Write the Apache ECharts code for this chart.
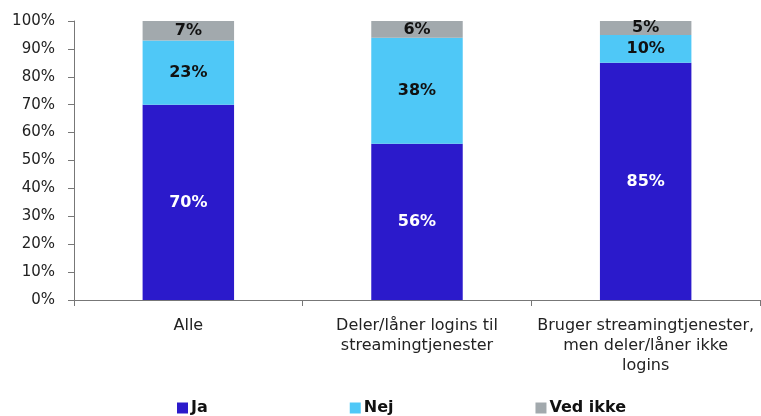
<!DOCTYPE html>
<html>
<head>
<meta charset="utf-8">
<script src="https://cdn.jsdelivr.net/npm/echarts@6/dist/echarts.min.js"></script>
<style>
  html, body { margin: 0; padding: 0; background: #fff; }
  #chart { width: 761px; height: 416px; }
</style>
</head>
<body>
<div id="chart"></div>
<script>
const categories = ['Alle', 'Deler/låner logins til\nstreamingtjenester', 'Bruger streamingtjenester,\nmen deler/låner ikke\nlogins'];
const dataJa = [70, 56, 85];
const dataNej = [23, 38, 10];
const dataVedIkke = [7, 6, 5];

const font = '"DejaVu Sans", sans-serif';

function serie(name, data, color, labelColor) {
  return {
    name: name,
    type: 'bar',
    stack: 'total',
    data: data,
    barWidth: '40%',
    itemStyle: { color: color },
    label: {
      show: true,
      position: 'inside',
      formatter: '{c}%',
      color: labelColor,
      fontWeight: 'bold',
      fontSize: 16,
      fontFamily: font
    }
  };
}

let myChart = echarts.init(document.getElementById('chart'));
const option = {
  animation: false,
  grid: { left: 74, right: 1, top: 21, bottom: 116 },
  legend: {
    left: 172,
    top: 395,
    itemWidth: 11,
    itemHeight: 11,
    itemGap: 142,
    icon: 'rect',
    textStyle: { fontSize: 16, fontWeight: 'bold', color: '#111', fontFamily: font, padding: [0, 0, 0, -2] },
    data: ['Ja', 'Nej', 'Ved ikke']
  },
  xAxis: {
    type: 'category',
    data: categories,
    axisLine: { lineStyle: { color: '#777' } },
    axisTick: { show: true, length: 6, lineStyle: { color: '#777' } },
    axisLabel: { interval: 0, hideOverlap: false, fontSize: 16, color: '#222', lineHeight: 20, margin: 16, fontFamily: font }
  },
  yAxis: {
    type: 'value',
    min: 0,
    max: 100,
    interval: 10,
    axisLine: { show: true, lineStyle: { color: '#777' } },
    axisTick: { show: true, length: 6, lineStyle: { color: '#777' } },
    splitLine: { show: false },
    axisLabel: { formatter: '{value}%', fontSize: 15, color: '#222', margin: 19, fontFamily: font }
  },
  series: [
    serie('Ja', dataJa, '#2b1acb', '#fff'),
    serie('Nej', dataNej, '#4fc8f7', '#111'),
    serie('Ved ikke', dataVedIkke, '#a2a9ad', '#111')
  ]
};
myChart.setOption(option);
</script>
</body>
</html>
